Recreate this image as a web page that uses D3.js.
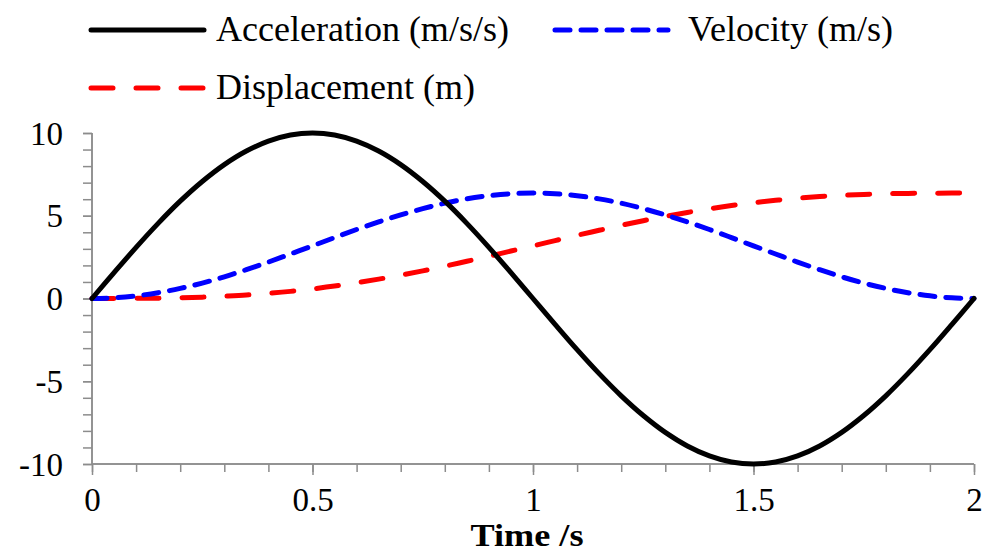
<!DOCTYPE html>
<html><head><meta charset="utf-8">
<script src="https://cdn.jsdelivr.net/npm/d3@7/dist/d3.min.js"></script>
<style>body{margin:0;background:#fff}svg{display:block}text{font-family:"Liberation Serif","Times New Roman",serif;fill:#000}</style>
</head><body>
<svg id="c" width="992" height="553"></svg>
<script>
const time = [0,0.05,0.1,0.15,0.2,0.25,0.3,0.35,0.4,0.45,0.5,0.55,0.6,0.65,0.7,0.75,0.8,0.85,0.9,0.95,1,1.05,1.1,1.15,1.2,1.25,1.3,1.35,1.4,1.45,1.5,1.55,1.6,1.65,1.7,1.75,1.8,1.85,1.9,1.95,2];
const acceleration = [0,1.56,3.09,4.54,5.88,7.07,8.09,8.91,9.51,9.88,10,9.88,9.51,8.91,8.09,7.07,5.88,4.54,3.09,1.56,0,-1.56,-3.09,-4.54,-5.88,-7.07,-8.09,-8.91,-9.51,-9.88,-10,-9.88,-9.51,-8.91,-8.09,-7.07,-5.88,-4.54,-3.09,-1.56,0];
const velocity = [0,0.04,0.16,0.35,0.61,0.93,1.31,1.74,2.20,2.69,3.18,3.68,4.17,4.63,5.05,5.43,5.76,6.02,6.21,6.33,6.37,6.33,6.21,6.02,5.76,5.43,5.05,4.63,4.17,3.68,3.18,2.69,2.20,1.74,1.31,0.93,0.61,0.35,0.16,0.04,0];
const displacement = [0,0.00,0.01,0.02,0.04,0.08,0.14,0.21,0.31,0.43,0.58,0.75,0.95,1.17,1.41,1.67,1.95,2.25,2.55,2.87,3.18,3.50,3.82,4.12,4.42,4.70,4.96,5.20,5.42,5.62,5.79,5.93,6.06,6.16,6.23,6.29,6.33,6.35,6.36,6.37,6.37];
const seriesNames = ["Acceleration (m/s/s)","Velocity (m/s)","Displacement (m)"];
const xTicks = [0,0.5,1,1.5,2];
const yTicks = [-10,-5,0,5,10];
const xTitle = "Time /s";

const svg = d3.select("#c");
const L=92,R=974,T=133,B=464;
const x = d3.scaleLinear().domain([0,2]).range([L,R]);
const y = d3.scaleLinear().domain([-10,10]).range([B,T]);
const axisColor="#8c8c8c";

// y axis
const gy = svg.append("g").attr("transform",`translate(${L},0)`);
gy.call(d3.axisLeft(y).tickValues(d3.range(-10,10.01,1)).tickSize(9).tickFormat(""));
gy.append("g").call(d3.axisLeft(y).tickValues(yTicks).tickSize(9).tickPadding(20).tickFormat(d=>d<0?"-"+Math.abs(d):d));
gy.selectAll("path,line").attr("stroke",axisColor).attr("stroke-width",1.5);
gy.selectAll("text").attr("font-size",33).attr("font-family",'"Liberation Serif",serif').attr("fill","#000").attr("dy","0.34em");

// x axis
const gx = svg.append("g").attr("transform",`translate(0,${B})`);
gx.call(d3.axisBottom(x).tickValues(d3.range(0,2.001,0.1)).tickSize(8).tickFormat(""));
gx.append("g").call(d3.axisBottom(x).tickValues(xTicks).tickSize(11).tickPadding(13).tickFormat(d=>d));
gx.selectAll("path,line").attr("stroke",axisColor).attr("stroke-width",1.5);
gx.selectAll("path").attr("d",`M${L},0H${R}`);
gy.selectAll("path.domain").attr("d",`M0,${T}V${B}`);
gx.selectAll("text").attr("font-size",33).attr("font-family",'"Liberation Serif",serif').attr("fill","#000").attr("dy","0.71em");

svg.append("text").attr("x",527).attr("y",546).attr("text-anchor","middle")
  .attr("font-size",31).attr("font-weight","bold")
  .attr("textLength",113).attr("lengthAdjust","spacingAndGlyphs").text(xTitle);

const styles = [
  {data:acceleration,color:"#000",dash:null},
  {data:velocity,color:"#0000ff",dash:"15,11"},
  {data:displacement,color:"#ff0000",dash:"22,23"}
];
const line = d3.line().curve(d3.curveCatmullRom);
[2,1,0].forEach(i=>{
  const s=styles[i];
  svg.append("path").attr("d",line(time.map((t,j)=>[x(t),y(s.data[j])])))
    .attr("fill","none").attr("stroke",s.color).attr("stroke-width",5)
    .attr("stroke-linecap","round").attr("stroke-dasharray",s.dash);
});

// legend
const leg = [{x:88,y:30},{x:552,y:30},{x:88,y:88}];
leg.forEach((p,i)=>{
  const s=styles[i];
  svg.append("line").attr("x1",p.x+3).attr("x2",p.x+116).attr("y1",p.y).attr("y2",p.y)
    .attr("stroke",s.color).attr("stroke-width",5).attr("stroke-linecap","round").attr("stroke-dasharray",s.dash);
  svg.append("text").attr("x",p.x+128+(i===1?8:0)).attr("y",p.y+11).attr("font-size",36).text(seriesNames[i]);
});
</script>
</body></html>
